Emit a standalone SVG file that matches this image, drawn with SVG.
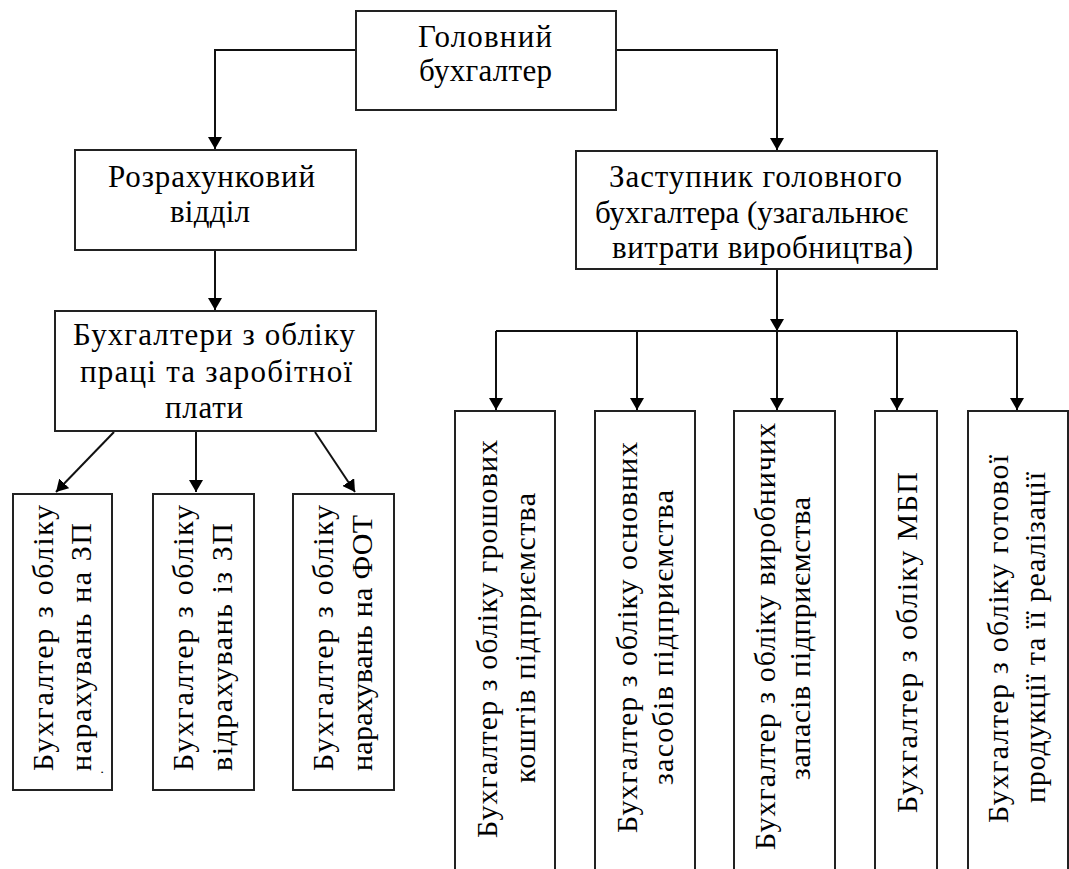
<svg xmlns="http://www.w3.org/2000/svg" width="1069" height="869" viewBox="0 0 1069 869">
<style>
.box{fill:#fff;stroke:#222;stroke-width:2}
.t{font-family:"Liberation Serif","Times New Roman",serif;font-size:31px;fill:#000}
.r{font-family:"Liberation Serif","Times New Roman",serif;font-size:30px;fill:#000}
.c{fill:none;stroke:#111;stroke-width:2}
</style>
<defs>
<marker id="ah" viewBox="0 0 12 14" refX="12" refY="7" markerWidth="12" markerHeight="14" orient="auto" markerUnits="userSpaceOnUse">
<path d="M0,0 L12,7 L0,14 z" fill="#000"/>
</marker>
</defs>
<rect width="1069" height="869" fill="#fff"/>
<g id="connectors">
<path class="c" d="M355,50 H215 V149" marker-end="url(#ah)"/>
<path class="c" d="M616,50 H777 V150" marker-end="url(#ah)"/>
<path class="c" d="M215,250 V310" marker-end="url(#ah)"/>
<path class="c" d="M114,432 L56,492" marker-end="url(#ah)"/>
<path class="c" d="M196,432 V492" marker-end="url(#ah)"/>
<path class="c" d="M315,432 L355,492" marker-end="url(#ah)"/>
<path class="c" d="M777,269 V331" marker-end="url(#ah)"/>
<path class="c" d="M496,331 H1017"/>
<path class="c" d="M496,331 V410" marker-end="url(#ah)"/>
<path class="c" d="M637,331 V410" marker-end="url(#ah)"/>
<path class="c" d="M777,331 V410" marker-end="url(#ah)"/>
<path class="c" d="M897,331 V410" marker-end="url(#ah)"/>
<path class="c" d="M1017,331 V410" marker-end="url(#ah)"/>
</g>
<g id="head">
<rect class="box" x="356" y="11" width="260" height="99"/>
<text class="t" x="418" y="47" textLength="134">Головний</text>
<text class="t" x="419" y="81" textLength="133">бухгалтер</text>
</g>
<g id="calc">
<rect class="box" x="75" y="150" width="281" height="100"/>
<text class="t" x="108" y="187" textLength="207">Розрахунковий</text>
<text class="t" x="170" y="222" textLength="80">відділ</text>
</g>
<g id="payroll">
<rect class="box" x="55" y="311" width="321" height="120"/>
<text class="t" x="73" y="345" textLength="282">Бухгалтери з обліку</text>
<text class="t" x="80" y="382" textLength="272">праці та заробітної</text>
<text class="t" x="165" y="418" textLength="78">плати</text>
</g>
<g id="deputy">
<rect class="box" x="576" y="151" width="361" height="118"/>
<text class="t" x="609" y="187" textLength="293">Заступник головного</text>
<text class="t" x="595" y="223" textLength="313">бухгалтера (узагальнює</text>
<text class="t" x="612" y="258" textLength="301">витрати виробництва)</text>
</g>
<g id="accrual">
<rect class="box" x="13" y="494" width="99" height="296"/>
<text class="r" transform="translate(53,771) rotate(-90)" textLength="266">Бухгалтер з обліку</text>
<text class="r" transform="translate(91,771) rotate(-90)" textLength="248">нарахувань на ЗП</text>
<text class="r" transform="translate(103,774) rotate(-90)" style="font-size:14px">.</text>
</g>
<g id="deduction">
<rect class="box" x="153" y="494" width="101" height="296"/>
<text class="r" transform="translate(193,771) rotate(-90)" textLength="266">Бухгалтер з обліку</text>
<text class="r" transform="translate(232,771) rotate(-90)" textLength="248">відрахувань із ЗП</text>
</g>
<g id="fot">
<rect class="box" x="293" y="494" width="101" height="296"/>
<text class="r" transform="translate(333,771) rotate(-90)" textLength="266">Бухгалтер з обліку</text>
<text class="r" transform="translate(372,771) rotate(-90)" textLength="256">нарахувань на ФОТ</text>
</g>
<g id="cash">
<rect class="box" x="455" y="411" width="100" height="461"/>
<text class="r" transform="translate(497,838) rotate(-90)" textLength="398">Бухгалтер з обліку грошових</text>
<text class="r" transform="translate(535,783) rotate(-90)" textLength="290">коштів підприємства</text>
</g>
<g id="fixed">
<rect class="box" x="595" y="411" width="100" height="461"/>
<text class="r" transform="translate(637,833) rotate(-90)" textLength="391">Бухгалтер з обліку основних</text>
<text class="r" transform="translate(673,785) rotate(-90)" textLength="295">засобів підприємства</text>
</g>
<g id="stock">
<rect class="box" x="734" y="411" width="101" height="461"/>
<text class="r" transform="translate(775,850) rotate(-90)" textLength="427">Бухгалтер з обліку виробничих</text>
<text class="r" transform="translate(810,780) rotate(-90)" textLength="283">запасів підприємства</text>
</g>
<g id="mbp">
<rect class="box" x="875" y="411" width="62" height="461"/>
<text class="r" transform="translate(917,813) rotate(-90)" textLength="341">Бухгалтер з обліку МБП</text>
</g>
<g id="goods">
<rect class="box" x="968" y="411" width="100" height="461"/>
<text class="r" transform="translate(1008,823) rotate(-90)" textLength="368">Бухгалтер з обліку готової</text>
<text class="r" transform="translate(1045,803) rotate(-90)" textLength="331">продукції та її реалізації</text>
</g>
</svg>
